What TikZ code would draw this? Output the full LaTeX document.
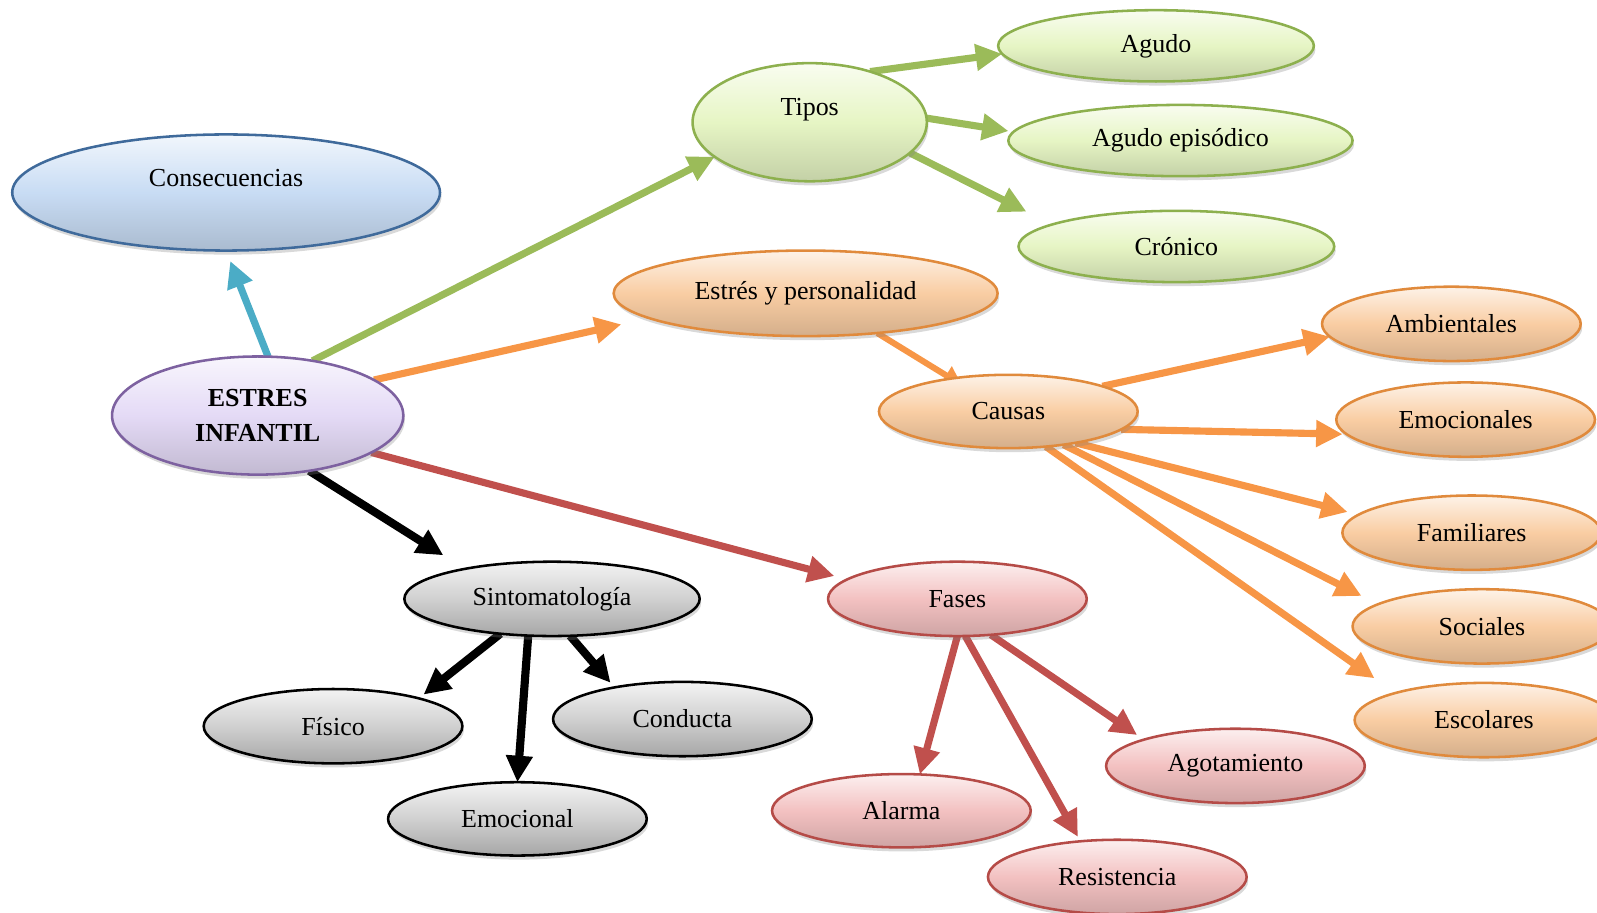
\documentclass[tikz,border=0pt]{standalone}
\usepackage{fontspec}
\setmainfont{Liberation Serif}
\usepackage{tikz}
\usetikzlibrary{positioning, arrows.meta, shapes.geometric, shadows, backgrounds}

\definecolor{bluefill}{HTML}{C8DCF4}
\definecolor{blueline}{HTML}{3F6A9B}
\definecolor{purplefill}{HTML}{E4DAF6}
\definecolor{purpleline}{HTML}{7D61A0}
\definecolor{greenfill}{HTML}{E6F5C4}
\definecolor{greenline}{HTML}{8DB04E}
\definecolor{orangefill}{HTML}{F9CDA3}
\definecolor{orangeline}{HTML}{E08A3C}
\definecolor{greyfill}{HTML}{D0D0D0}
\definecolor{redfill}{HTML}{F3C1C1}
\definecolor{redline}{HTML}{B54B47}
\definecolor{arrowblue}{HTML}{4BACC6}
\definecolor{arrowgreen}{HTML}{9BBB59}
\definecolor{arroworange}{HTML}{F79646}
\definecolor{arrowred}{HTML}{C0504D}

\tikzset{
  bubble/.style={ellipse, line width=2.5pt, inner sep=0pt, outer sep=0pt, align=center,
    font=\fontsize{25.5}{35}\selectfont,
    drop shadow={shadow xshift=1.5pt, shadow yshift=-4pt, opacity=0.3}},
  bluebubble/.style={bubble, draw=blueline, top color=bluefill!25, bottom color=bluefill!85!black, middle color=bluefill},
  purplebubble/.style={bubble, draw=purpleline, top color=purplefill!25, bottom color=purplefill!85!black, middle color=purplefill},
  greenbubble/.style={bubble, draw=greenline, top color=greenfill!25, bottom color=greenfill!85!black, middle color=greenfill},
  orangebubble/.style={bubble, draw=orangeline, top color=orangefill!25, bottom color=orangefill!85!black, middle color=orangefill},
  greybubble/.style={bubble, draw=black, top color=greyfill!25, bottom color=greyfill!80!black, middle color=greyfill},
  redbubble/.style={bubble, draw=redline, top color=redfill!25, bottom color=redfill!85!black, middle color=redfill},
  link/.style={line width=7pt, -{Triangle[length=26pt,width=25pt]}},
}

\begin{document}
\begin{tikzpicture}[x=1pt, y=-1pt]
\useasboundingbox (0,0) rectangle (1568,896);
% centre and consequences
\node[purplebubble, minimum width=286pt, minimum height=116pt, font=\fontsize{25.5}{35}\selectfont\bfseries] (estres) at (253,408) {ESTRES\\INFANTIL};
\node[bluebubble, minimum width=420pt, minimum height=114pt, text depth=28pt] (consec) at (222,189) {Consecuencias};
% types
\node[greenbubble, minimum width=230pt, minimum height=116pt, text depth=30pt] (tipos) at (795,120) {Tipos};
\node[greenbubble, minimum width=310pt, minimum height=70pt] (agudo) at (1135,45) {Agudo};
\node[greenbubble, minimum width=338pt, minimum height=70pt] (episodico) at (1159,138) {Agudo episódico};
\node[greenbubble, minimum width=310pt, minimum height=70pt] (cronico) at (1155,242) {Crónico};
% personality and causes
\node[orangebubble, minimum width=377pt, minimum height=84pt] (personalidad) at (791,288) {Estrés y personalidad};
\node[orangebubble, minimum width=254pt, minimum height=72pt] (causas) at (990,404) {Causas};
\node[orangebubble, minimum width=254pt, minimum height=73pt] (ambientales) at (1425,318) {Ambientales};
\node[orangebubble, minimum width=254pt, minimum height=73pt] (emocionales) at (1439,412) {Emocionales};
\node[orangebubble, minimum width=254pt, minimum height=73pt] (familiares) at (1445,523) {Familiares};
\node[orangebubble, minimum width=254pt, minimum height=73pt] (sociales) at (1455,615) {Sociales};
\node[orangebubble, minimum width=254pt, minimum height=73pt] (escolares) at (1457,707) {Escolares};
% symptoms
\node[greybubble, minimum width=290pt, minimum height=73pt] (sinto) at (542,588) {Sintomatología};
\node[greybubble, minimum width=254pt, minimum height=73pt] (fisico) at (327,713) {Físico};
\node[greybubble, minimum width=254pt, minimum height=73pt] (conducta) at (670,706) {Conducta};
\node[greybubble, minimum width=254pt, minimum height=72pt] (emocional) at (508,804) {Emocional};
% phases
\node[redbubble, minimum width=254pt, minimum height=73pt] (fases) at (940,588) {Fases};
\node[redbubble, minimum width=254pt, minimum height=72pt] (alarma) at (885,796) {Alarma};
\node[redbubble, minimum width=254pt, minimum height=73pt] (agotamiento) at (1213,752) {Agotamiento};
\node[redbubble, minimum width=254pt, minimum height=73pt] (resistencia) at (1097,861) {Resistencia};
% connectors behind the bubbles
\begin{scope}[on background layer]
\draw[link, arrowblue, shorten >=11pt] (estres.80) -- (consec.270);
\draw[link, arrowgreen] (estres.45) -- (tipos.200);
\draw[link, arroworange, shorten >=28pt] (estres.17) -- (personalidad.189);
\draw[link, arrowred, shorten >=13pt] (estres.-18) -- (fases.170);
\draw[link, black, line width=8pt, shorten >=25pt] (estres.-47) -- (sinto.161);
% types
\draw[link, arrowgreen] (tipos.40) -- (agudo.183);
\draw[link, arrowgreen, shorten >=5pt] (tipos.2) -- (episodico.177);
\draw[link, arrowgreen, shorten >=28pt] (tipos.-17) -- (cronico.170);
% causes
\draw[arroworange, line width=6pt, -{Triangle[length=18pt,width=20pt]}, shorten >=-12pt] (personalidad.-29) -- (causas.150);
\draw[link, arroworange] (causas.15) -- (ambientales.186);
\draw[link, arroworange, shorten >=4pt] (causas.-9) -- (emocionales.187);
\draw[link, arroworange, shorten >=11pt] (causas.-25) -- (familiares.171);
\draw[link, arroworange, shorten >=18pt] (causas.-31) -- (sociales.168);
\draw[link, arroworange, shorten >=25pt] (causas.-43) -- (escolares.163);
% symptoms
\draw[link, black, line width=8pt, shorten >=6pt] (sinto.214) -- (fisico.18);
\draw[link, black, line width=8pt] (sinto.237) -- (emocional.north);
\draw[link, black, line width=8pt, shorten >=6pt] (sinto.296) -- (conducta.155);
% phases
\draw[link, arrowred] (fases.-90) -- (alarma.63);
\draw[link, arrowred, shorten >=5pt] (fases.-78) -- (resistencia.136);
\draw[link, arrowred, shorten >=8pt] (fases.-47) -- (agotamiento.164);
\end{scope}
\end{tikzpicture}
\end{document}
